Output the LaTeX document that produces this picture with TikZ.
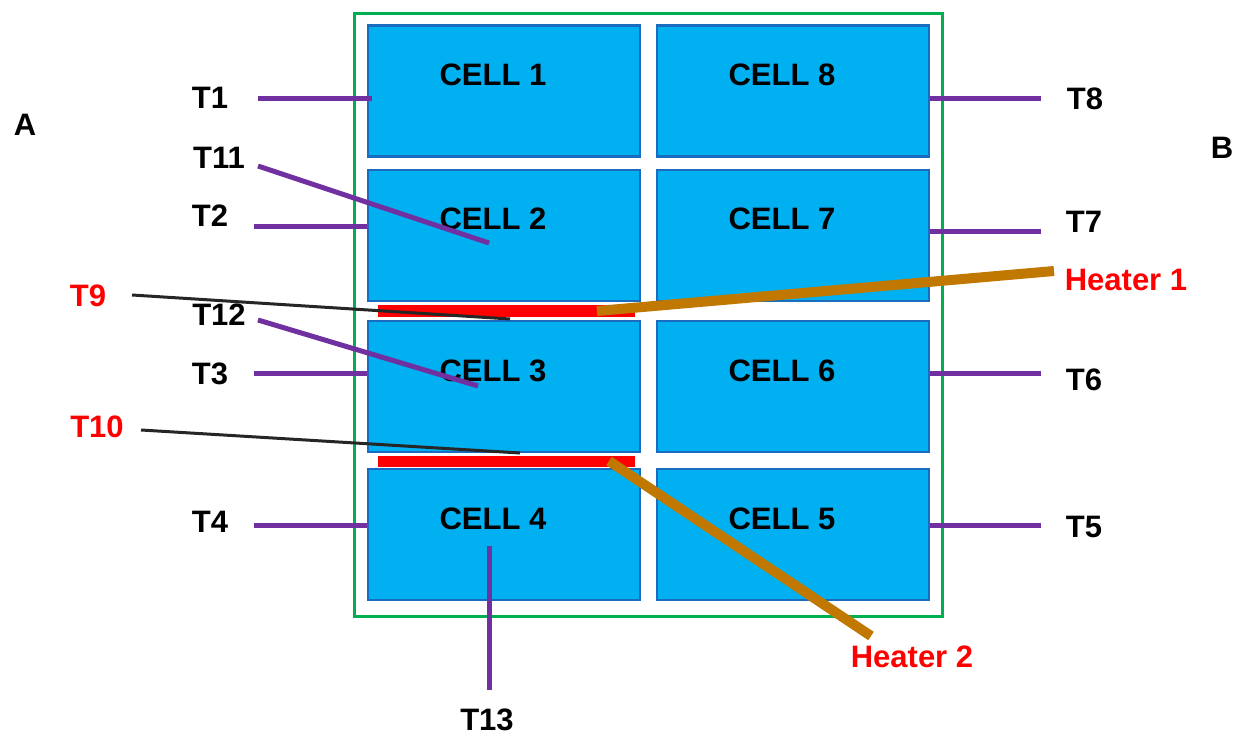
\documentclass[tikz,border=0pt]{standalone}
\usepackage{fontspec}
\setmainfont{Liberation Sans}
\definecolor{cellfill}{HTML}{00B0F0}
\definecolor{celldraw}{HTML}{1A6CC0}
\definecolor{frame}{HTML}{00B050}
\definecolor{probe}{HTML}{7030A0}
\definecolor{heat}{HTML}{C07800}
\definecolor{wire}{HTML}{262626}
\definecolor{hred}{HTML}{FF0000}
\begin{document}
\begin{tikzpicture}[x=1pt,y=-1pt,
  cellbox/.style={draw=celldraw,line width=2.5pt,fill=cellfill,rectangle,minimum width=272pt,minimum height=131pt,inner sep=0pt},
  lbl/.style={font=\bfseries\fontsize{31}{36}\selectfont,inner sep=0pt},
  rlbl/.style={lbl,text=hred},
  probeline/.style={draw=probe,line width=5pt},
  wireline/.style={draw=wire,line width=3pt},
  heatline/.style={draw=heat,line width=10pt},
  strip/.style={fill=hred,draw=none}]
\useasboundingbox (0,0) rectangle (1235,736);
% frame
\node[draw=frame,line width=3pt,rectangle,minimum width=588pt,minimum height=603pt,inner sep=0pt] (frame) at (648,314.5) {};
% cells
\node[cellbox] (c1) at (504,91) {};
\node[cellbox] (c8) at (793,91) {};
\node[cellbox] (c2) at (504,235.5) {};
\node[cellbox] (c7) at (793,235.5) {};
\node[cellbox] (c3) at (504,386.5) {};
\node[cellbox] (c6) at (793,386.5) {};
\node[cellbox] (c4) at (504,534.5) {};
\node[cellbox] (c5) at (793,534.5) {};
% cell texts
\node[lbl] (t1) at (493,75) {CELL 1};
\node[lbl] (t8) at (782,75) {CELL 8};
\node[lbl] (t2) at (493,219) {CELL 2};
\node[lbl] (t7) at (782,219) {CELL 7};
\node[lbl] (t3) at (493,371) {CELL 3};
\node[lbl] (t6) at (782,371) {CELL 6};
\node[lbl] (t4) at (493,519) {CELL 4};
\node[lbl] (t5) at (782,519) {CELL 5};
% heater strips
\fill[strip] (378,305) rectangle (635,317);
\fill[strip] (378,456) rectangle (635,467);
% side labels
\node[lbl] (A) at (25,125) {A};
\node[lbl] (B) at (1222,148) {B};
\node[lbl] (T1) at (210,98) {T1};
\node[lbl] (T11) at (219,158) {T11};
\node[lbl] (T2) at (210,216) {T2};
\node[rlbl] (T9) at (88,296) {T9};
\node[lbl] (T12) at (219,315) {T12};
\node[lbl] (T3) at (210,374) {T3};
\node[rlbl] (T10) at (97,427) {T10};
\node[lbl] (T4) at (210,522) {T4};
\node[lbl] (T13) at (487,720) {T13};
\node[lbl] (T8) at (1085,99) {T8};
\node[lbl] (T7) at (1084,222) {T7};
\node[lbl] (T6) at (1084,380) {T6};
\node[lbl] (T5) at (1084,527) {T5};
\node[rlbl] (H1) at (1126,280) {Heater 1};
\node[rlbl] (H2) at (912,657) {Heater 2};
% endpoints
\coordinate (p1a) at (258,98);  \coordinate (p1b) at (372,98);
\coordinate (p2a) at (254,226); \coordinate (p2b) at (367,226);
\coordinate (p3a) at (254,373); \coordinate (p3b) at (367,373);
\coordinate (p4a) at (254,525); \coordinate (p4b) at (367,525);
\coordinate (p11a) at (258,166); \coordinate (p11b) at (489,243);
\coordinate (p12a) at (258,320); \coordinate (p12b) at (478,386);
\coordinate (p13a) at (489,546); \coordinate (p13b) at (489,690);
\coordinate (p8a) at (930,98);  \coordinate (p8b) at (1041,98);
\coordinate (p7a) at (930,231); \coordinate (p7b) at (1041,231);
\coordinate (p6a) at (930,373); \coordinate (p6b) at (1041,373);
\coordinate (p5a) at (930,525); \coordinate (p5b) at (1041,525);
\coordinate (w9a) at (132,295); \coordinate (w9b) at (510,319);
\coordinate (w10a) at (141,430); \coordinate (w10b) at (520,453);
\coordinate (h1a) at (597,311); \coordinate (h1b) at (1054,271);
\coordinate (h2a) at (609,461); \coordinate (h2b) at (871,636);
% probe lines
\draw[probeline] (p1a) -- (p1b);
\draw[probeline] (p2a) -- (p2b);
\draw[probeline] (p3a) -- (p3b);
\draw[probeline] (p4a) -- (p4b);
\draw[probeline] (p11a) -- (p11b);
\draw[probeline] (p12a) -- (p12b);
\draw[probeline] (p13a) -- (p13b);
\draw[probeline] (p8a) -- (p8b);
\draw[probeline] (p7a) -- (p7b);
\draw[probeline] (p6a) -- (p6b);
\draw[probeline] (p5a) -- (p5b);
\draw[wireline] (w9a) -- (w9b);
\draw[wireline] (w10a) -- (w10b);
\draw[heatline] (h1a) -- (h1b);
\draw[heatline] (h2a) -- (h2b);
\end{tikzpicture}
\end{document}
